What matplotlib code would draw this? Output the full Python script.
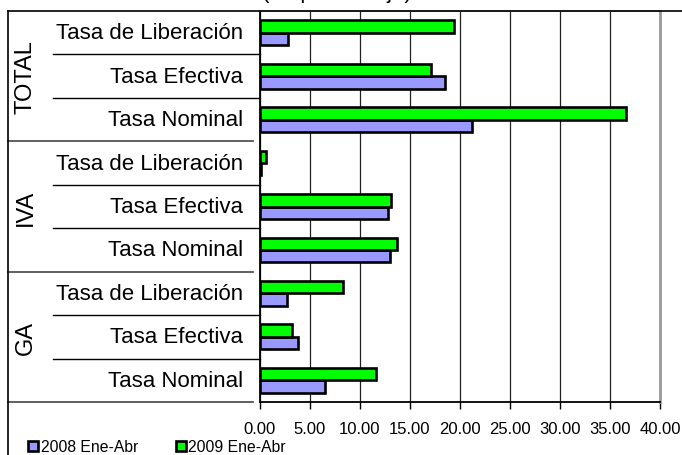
import numpy as np
import matplotlib.pyplot as plt
from matplotlib.lines import Line2D
from matplotlib.transforms import blended_transform_factory

plt.rcParams['font.family'] = ['Liberation Sans', 'DejaVu Sans']

groups = ["TOTAL", "IVA", "GA"]
tasas = ["Tasa de Liberación", "Tasa Efectiva", "Tasa Nominal"]
serie_2008 = [2.8, 18.5, 21.2, 0.1, 12.8, 13.0, 2.7, 3.8, 6.5]
serie_2009 = [19.4, 17.1, 36.6, 0.6, 13.1, 13.7, 8.3, 3.2, 11.6]
series_names = ["2008 Ene-Abr", "2009 Ene-Abr"]
title = "(en porcentaje)"

W, H = 682, 456
fig = plt.figure(figsize=(W / 100, H / 100), dpi=100)
ax = fig.add_axes([260 / W, 1 - 403 / H, 400 / W, 391 / H])

y = np.arange(len(serie_2008))
bh = 0.285
b08 = ax.barh(y + bh / 2, serie_2008, height=bh, color='#9999FF',
              edgecolor='black', linewidth=1.9, zorder=3, label=series_names[0])
b09 = ax.barh(y - bh / 2, serie_2009, height=bh, color='#00FF00',
              edgecolor='black', linewidth=1.9, zorder=3, label=series_names[1])

ax.set_xlim(0, 40)
ax.set_ylim(len(y) - 0.5, -0.5)
ax.set_xticks(np.arange(0, 41, 5))
ax.set_xticklabels([f"{v:.2f}" for v in np.arange(0, 41, 5)], fontsize=12)
ax.tick_params(axis='x', length=5, width=1, pad=9)
ax.set_yticks([])
ax.xaxis.grid(True, color='#222222', linewidth=0.9, zorder=0)

for side in ['top', 'right']:
    ax.spines[side].set_color('#999999')
ax.spines['right'].set_linewidth(2)
ax.spines['top'].set_linewidth(1.2)
ax.spines['left'].set_linewidth(1.3)
ax.spines['bottom'].set_linewidth(1.3)

# category labels and separators
tr = blended_transform_factory(ax.transAxes, ax.transData)
px = lambda p: (p - 260) / 400
for i in range(len(y)):
    ax.text(px(243), i, tasas[i % 3], transform=tr, ha='right', va='center',
            fontsize=16)
for g, name in enumerate(groups):
    ax.text(px(26), g * 3 + 1, name, transform=tr, ha='center', va='center',
            rotation=90, fontsize=17)
    for k in (0.5, 1.5):
        ax.plot([px(53), 0], [g * 3 + k] * 2, transform=tr, color='black',
                linewidth=1, clip_on=False)
    ax.plot([px(8), px(253)], [g * 3 + 2.5] * 2, transform=tr, color='#444444',
            linewidth=1.2, clip_on=False)

# outer chart frame (cropped on the right and bottom)
ty = 1 - 12 / H
fig.add_artist(Line2D([8 / W, 1], [ty, ty], transform=fig.transFigure,
                      color='black', linewidth=1.2))
fig.add_artist(Line2D([8 / W, 8 / W], [0, ty], transform=fig.transFigure,
                      color='black', linewidth=1.2))

# title sits above the visible area, only its descenders show
fig.text(337 / W, 1 + 1.5 / H, title, ha='center', va='baseline', fontsize=16)

fig.legend(handles=[b08, b09], loc='center left',
           bbox_to_anchor=(28 / W, 1 - 448 / H), ncol=2, frameon=False,
           fontsize=11.3, handlelength=0.65, handleheight=0.65,
           handletextpad=0.15, columnspacing=2.4, borderpad=0,
           borderaxespad=0)

fig.savefig('out.png', dpi=100)
